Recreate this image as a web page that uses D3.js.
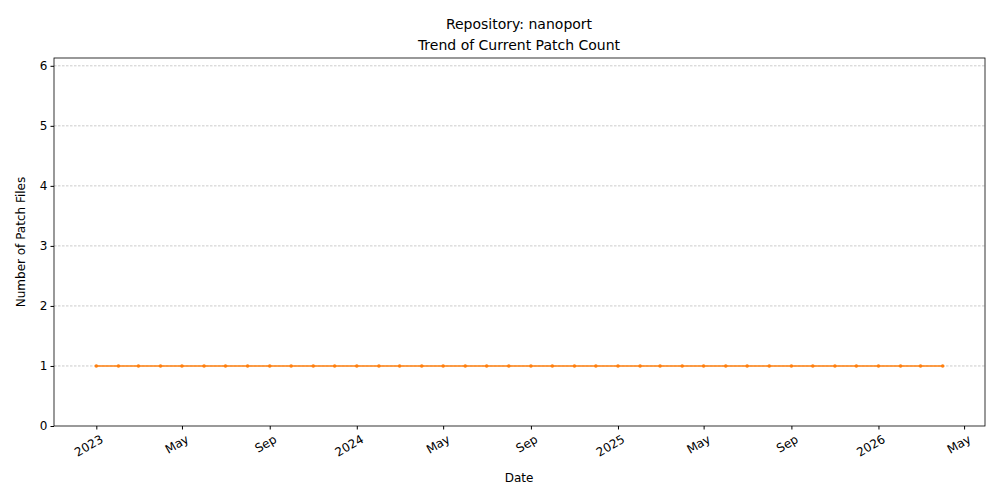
<!DOCTYPE html>
<html><head><meta charset="utf-8">
<script src="https://cdn.jsdelivr.net/npm/d3@7"></script>
<style>body{margin:0;background:#fff}text{font-family:"DejaVu Sans",sans-serif}</style>
</head><body><svg id="c" width="1000" height="500"></svg>
<script>
const startMonth = "2023-01-01";
const monthCount = 40;
const patchCounts = [1,1,1,1,1,1,1,1,1,1,1,1,1,1,1,1,1,1,1,1,1,1,1,1,1,1,1,1,1,1,1,1,1,1,1,1,1,1,1,1];
const yTicks = [0,1,2,3,4,5,6];
const title1 = "Repository: nanoport", title2 = "Trend of Current Patch Count";

const s = d3.select("#c");
const m = {l:54, r:985, t:58, b:426};
const dates = d3.timeMonth.range(new Date(2023,0,1), new Date(2023,0+monthCount,1));
const data = dates.map((d,i)=>({d, v:patchCounts[i]}));
const t0 = +dates[0], t1 = +dates[dates.length-1], pad = (t1-t0)*0.05;
const x = d3.scaleTime().domain([new Date(t0-pad), new Date(t1+pad)]).range([m.l, m.r]);
const y = d3.scaleLinear().domain([0, 6.13]).range([m.b, m.t]);

s.append("g").selectAll("line").data(yTicks.slice(1)).join("line")
 .attr("x1",m.l).attr("x2",m.r).attr("y1",d=>y(d)).attr("y2",d=>y(d))
 .attr("stroke","#a8a8a8").attr("stroke-width",0.6).attr("stroke-dasharray","2.5,1.5");

const xt = d3.timeMonth.range(new Date(2023,0,1), new Date(2026,5,1), 4);
const xa = s.append("g").attr("transform",`translate(0,${m.b})`)
 .call(d3.axisBottom(x).tickValues(xt).tickSize(3.5).tickFormat(d=>d.getMonth()===0?d3.timeFormat("%Y")(d):d3.timeFormat("%b")(d)));
xa.selectAll("text").attr("font-size",12).attr("text-anchor","end").attr("dy",0)
 .attr("transform","translate(4,10) rotate(-30)");
const ya = s.append("g").attr("transform",`translate(${m.l},0)`)
 .call(d3.axisLeft(y).tickValues(yTicks).tickSize(3.5).tickFormat(d3.format("d")));
ya.selectAll("text").attr("font-size",12);
[xa,ya].forEach(a=>{a.select(".domain").remove();a.selectAll("line").attr("stroke","#000");a.selectAll("text").attr("fill","#000");});
s.append("rect").attr("x",m.l).attr("y",m.t).attr("width",m.r-m.l).attr("height",m.b-m.t)
 .attr("fill","none").attr("stroke","#000").attr("stroke-width",0.8);

s.append("path").datum(data).attr("fill","none").attr("stroke","#ff7f0e").attr("stroke-width",1.5)
 .attr("d",d3.line().x(d=>x(d.d)).y(d=>y(d.v)));
s.append("g").selectAll("circle").data(data).join("circle")
 .attr("cx",d=>x(d.d)).attr("cy",d=>y(d.v)).attr("r",1.8).attr("fill","#ff7f0e");

s.append("text").attr("x",519).attr("y",29).attr("text-anchor","middle").attr("font-size",14).text(title1);
s.append("text").attr("x",519).attr("y",50).attr("text-anchor","middle").attr("font-size",14).text(title2);
s.append("text").attr("x",519).attr("y",482).attr("text-anchor","middle").attr("font-size",12).text("Date");
s.append("text").attr("transform","translate(25,242) rotate(-90)").attr("text-anchor","middle").attr("font-size",12).text("Number of Patch Files");
</script></body></html>
